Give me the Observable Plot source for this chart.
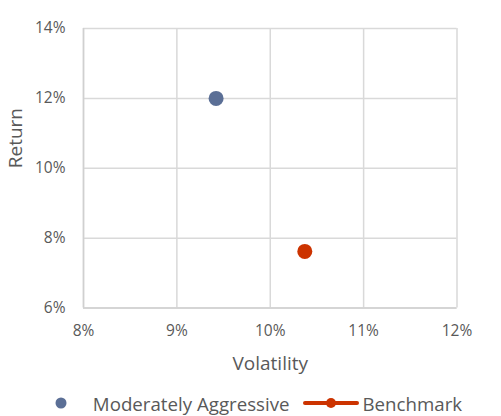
<!DOCTYPE html>
<html>
<head>
<meta charset="utf-8">
<script src="https://cdn.jsdelivr.net/npm/d3@7"></script>
<script src="https://cdn.jsdelivr.net/npm/@observablehq/plot@0.6"></script>
<style>
  html, body { margin: 0; padding: 0; background: #fff; }
  #wrap { width: 501px; font-family: "Open Sans", Lato, sans-serif; color: #595959; }
  #legend { height: 26px; padding-top: 5px; display: flex; align-items: center; justify-content: center; padding-left: 16px; font-size: 18.7px; color: #595959; }
  #legend .item { display: flex; align-items: center; }
  #legend svg { display: block; }
</style>
</head>
<body>
<div id="wrap"></div>
<script>
const series = ["Moderately Aggressive", "Benchmark"];
const volatility = [9.42, 10.37];
const returns = [12.0, 7.62];
const colors = ["#5B6F96", "#CC3300"];
const xTicks = [8, 9, 10, 11, 12];
const yTicks = [6, 8, 10, 12, 14];
const xLabel = "Volatility";
const yLabel = "Return";

const data = series.map((s, i) => ({ series: s, x: volatility[i], y: returns[i], color: colors[i] }));

const chart = Plot.plot({
  width: 501,
  height: 385,
  marginTop: 28,
  marginLeft: 83,
  marginRight: 44.5,
  marginBottom: 77.5,
  style: { fontFamily: "'Open Sans', Lato, sans-serif", fontSize: "15px", color: "#595959", background: "#fff" },
  x: { domain: [8, 12] },
  y: { domain: [6, 14] },
  marks: [
    Plot.ruleX(xTicks, { stroke: "#d9d9d9", strokeWidth: 1.5 }),
    Plot.ruleY(yTicks, { stroke: "#d9d9d9", strokeWidth: 1.5 }),
    Plot.ruleX([8], { stroke: "#d0d0d0", strokeWidth: 1.5 }),
    Plot.ruleY([6], { stroke: "#d0d0d0", strokeWidth: 1.5 }),
    Plot.axisX(xTicks, { tickSize: 0, tickPadding: 17, tickFormat: d => d + "%", label: null, fill: "#595959", fontSize: 15.5 }),
    Plot.axisY(yTicks, { tickSize: 0, tickPadding: 18, tickFormat: d => d + "%", label: null, fill: "#595959", fontSize: 15.5 }),
    Plot.text([xLabel], { frameAnchor: "bottom", dy: 55.5, lineAnchor: "middle", fill: "#595959", fontSize: 19 }),
    Plot.text([yLabel], { frameAnchor: "left", dx: -68, rotate: -90, lineAnchor: "middle", fill: "#595959", fontSize: 19 }),
    Plot.dot(data, { x: "x", y: "y", r: 7.5, fill: "color", stroke: null })
  ]
});
document.getElementById("wrap").appendChild(chart);

const legend = document.createElement("div");
legend.id = "legend";
legend.innerHTML =
  `<div class="item"><svg width="12" height="12"><circle cx="6" cy="6" r="5.5" fill="${colors[0]}"/></svg><span style="margin-left:26px">${series[0]}</span></div>` +
  `<div class="item" style="margin-left:13px"><svg width="56" height="12"><line x1="2" x2="54" y1="6" y2="6" stroke="${colors[1]}" stroke-width="4" stroke-linecap="round"/><circle cx="28" cy="6" r="5" fill="${colors[1]}"/></svg><span style="margin-left:4px">${series[1]}</span></div>`;
document.getElementById("wrap").appendChild(legend);
</script>
</body>
</html>
